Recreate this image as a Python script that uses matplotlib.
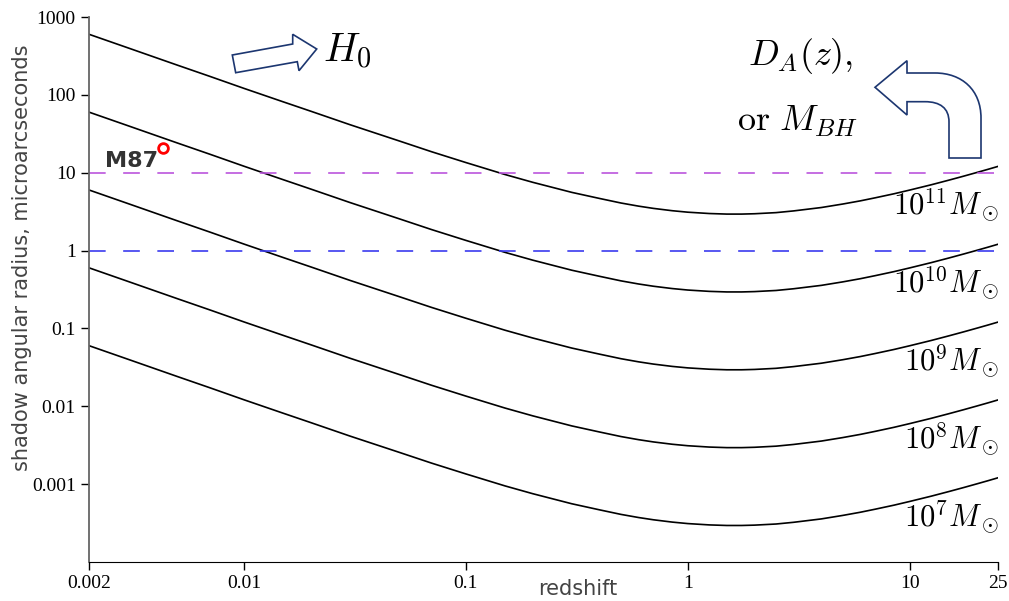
import matplotlib
matplotlib.use("Agg")
from matplotlib import pyplot as plt
from matplotlib.patches import Polygon, PathPatch
from matplotlib.path import Path

plt.rcParams['mathtext.fontset'] = 'cm'

# shadow radius (microarcsec) of a 1e11 Msun black hole vs redshift
redshift = [0.002, 0.003, 0.004, 0.005, 0.007, 0.01, 0.015, 0.02, 0.03, 0.05, 0.07,
            0.1, 0.15, 0.2, 0.3, 0.4, 0.5, 0.6, 0.7, 0.85, 1, 1.25, 1.5, 1.75, 2, 2.5,
            3, 4, 5, 6, 7, 8.5, 10, 12.5, 15, 17.5, 20, 22.5, 25]
radius_1e11 = [600, 401, 301, 241, 173, 121, 81.4, 61.6, 41.4, 25.6, 18.6,
               13.5, 9.48, 7.53, 5.59, 4.67, 4.08, 3.72, 3.48, 3.25, 3.11, 2.99, 2.94, 2.94, 2.97, 3.07,
               3.23, 3.57, 3.96, 4.35, 4.76, 5.36, 5.98, 6.99, 8.01, 9.02, 10.03, 11.03, 12.04]
mass_exponents = [11, 10, 9, 8, 7]
label_radius_1e11 = 2.85  # where the mass labels sit at z = 25

m87_z = 0.00432
m87_radius = 20.8

y_ticks = [1000, 100, 10, 1, 0.1, 0.01, 0.001]
y_ticklabels = ["1000", "100", "10", "1", "0.1", "0.01", "0.001"]
x_ticks = [0.002, 0.01, 0.1, 1, 10, 25]
x_ticklabels = ["0.002", "0.01", "0.1", "1", "10", "25"]

fig = plt.figure(figsize=(10.09, 6.01), dpi=100)
ax = fig.add_axes([0.0882, 0.065, 0.9008, 0.9067])

for exponent in mass_exponents:
    scale = 10.0 ** (exponent - 11)
    ax.plot(redshift, [r * scale for r in radius_1e11], color='black', lw=1.2)
    ax.text(25.4, label_radius_1e11 * scale, r"$10^{%d}M_\odot$" % exponent,
            fontsize=22, ha='right', va='baseline')

ax.axhline(10, color='#bb55dd', lw=1.2, dashes=(10, 10.5))
ax.axhline(1, color='#3b3bef', lw=1.2, dashes=(10, 10.5))

ax.plot([m87_z], [m87_radius], 'o', ms=7, mfc='white', mec='red', mew=2)
ax.text(0.00237, 11.8, "M87", fontsize=16, fontweight='bold', color='#333333', ha='left')

ax.set_xscale('log')
ax.set_yscale('log')
ax.set_xlim(0.002, 25)
ax.set_ylim(1e-4, 1e3)
ax.set_xticks(x_ticks)
ax.set_xticklabels(x_ticklabels, fontfamily='Liberation Serif', fontsize=14)
ax.set_yticks(y_ticks)
ax.set_yticklabels(y_ticklabels, fontfamily='Liberation Serif', fontsize=14)
ax.minorticks_off()
ax.tick_params(length=6, width=1)
ax.spines['top'].set_visible(False)
ax.spines['right'].set_visible(False)
ax.spines['left'].set_color('#666666')
ax.spines['left'].set_linewidth(1.3)

ax.set_ylabel("shadow angular radius, microarcseconds", fontsize=15, color='#444444')
ax.yaxis.set_label_coords(-0.0627, 0.558)
ax.set_xlabel("redshift", fontsize=15, color='#444444', va='top')
ax.xaxis.set_label_coords(0.538, -0.031)

# overlay in pixel coordinates for the arrows and annotations
ov = fig.add_axes([0, 0, 1, 1], facecolor='none')
ov.set_xlim(0, 1009)
ov.set_ylim(601, 0)
ov.axis('off')

edge = '#1c3670'
straight = [(232.3, 55), (292.7, 44), (292.7, 34.3), (316.7, 49),
            (299, 70.7), (297.3, 61.7), (235.7, 72.7)]
ov.add_patch(Polygon(straight, closed=True, fc='white', ec=edge, lw=1.2))

verts = [(907, 73), (935, 73), (962, 73), (981, 90), (981, 118), (981, 158),
         (949, 158), (949, 122), (949, 108), (940, 101.7), (925, 101.7), (907, 101.7),
         (907, 115), (875, 87.3), (907, 60.7), (907, 73)]
codes = [Path.MOVETO, Path.LINETO, Path.CURVE4, Path.CURVE4, Path.CURVE4, Path.LINETO,
         Path.LINETO, Path.LINETO, Path.CURVE4, Path.CURVE4, Path.CURVE4, Path.LINETO,
         Path.LINETO, Path.LINETO, Path.LINETO, Path.CLOSEPOLY]
ov.add_patch(PathPatch(Path(verts, codes), fc='white', ec=edge, lw=1.2))

ov.text(323, 62, r"$H_0$", fontsize=29, ha='left', va='baseline')
ov.text(801, 65, r"$D_A(z),$", fontsize=26, ha='center', va='baseline')
ov.text(798, 131, r"$\mathrm{or}\ M_{BH}$", fontsize=26, ha='center', va='baseline')

fig.savefig("out.png", dpi=100)
